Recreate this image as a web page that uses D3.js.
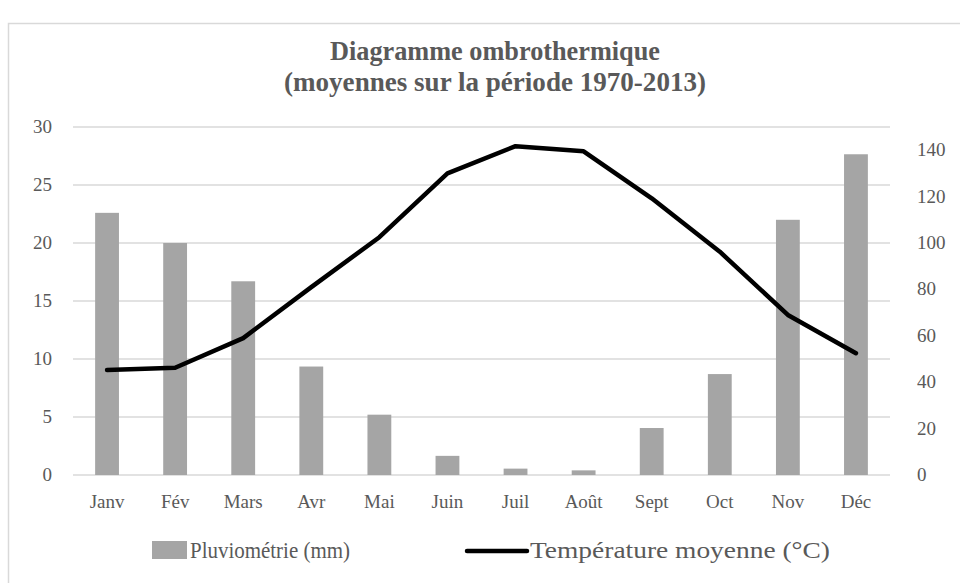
<!DOCTYPE html>
<html>
<head>
<meta charset="utf-8">
<script src="https://cdn.jsdelivr.net/npm/d3@7"></script>
<style>
  body { margin: 0; background: #fff; }
  svg text { font-family: "Liberation Serif", "Times New Roman", serif; fill: #595959; }
</style>
</head>
<body>
<div class="chart"></div>
<script>
// Data
var months = ['Janv', 'Fév', 'Mars', 'Avr', 'Mai', 'Juin', 'Juil', 'Août', 'Sept', 'Oct', 'Nov', 'Déc'];
var pluvio = [22.6, 20.0, 16.7, 9.35, 5.2, 1.65, 0.55, 0.4, 4.05, 8.7, 22.0, 27.65];
var temperature = [9.05, 9.25, 11.8, 16.2, 20.5, 26.0, 28.35, 27.9, 23.85, 19.25, 13.8, 10.5];
var leftTicks = [0, 5, 10, 15, 20, 25, 30];
var rightTicks = [0, 20, 40, 60, 80, 100, 120, 140];
var titleLines = ['Diagramme ombrothermique', '(moyennes sur la période 1970-2013)'];

var w = 960, h = 583;
var plotLeft = 73, plotRight = 890, plotTop = 127, plotBottom = 475;
var fontSize = 19;

var svg = d3.select('.chart')
    .append('svg')
        .attr('width', w)
        .attr('height', h);

// chart frame
svg.append('rect')
    .attr('x', 8.5).attr('y', 23.5)
    .attr('width', 1000).attr('height', 600)
    .attr('fill', 'none')
    .attr('stroke', '#d9d9d9')
    .attr('stroke-width', 1.5);

var x = d3.scaleBand().domain(months).range([plotLeft, plotRight]).paddingInner(0.65).paddingOuter(0.325);
var y = d3.scaleLinear().domain([0, 30]).range([plotBottom, plotTop]);
var y2 = d3.scaleLinear().domain([0, 150]).range([plotBottom, plotTop]);

// gridlines
svg.selectAll('line.grid')
    .data(leftTicks)
    .enter()
    .append('line')
        .attr('class', 'grid')
        .attr('x1', plotLeft).attr('x2', plotRight)
        .attr('y1', function (d) { return y(d); })
        .attr('y2', function (d) { return y(d); })
        .attr('stroke', '#d9d9d9')
        .attr('stroke-width', 1.5);

// bars
svg.selectAll('rect.bar')
    .data(pluvio)
    .enter()
    .append('rect')
        .attr('class', 'bar')
        .attr('x', function (d, i) { return x(months[i]); })
        .attr('y', function (d) { return y(d); })
        .attr('width', x.bandwidth())
        .attr('height', function (d) { return y(0) - y(d); })
        .attr('fill', '#a5a5a5');

// line
var line = d3.line()
    .x(function (d, i) { return x(months[i]) + x.bandwidth() / 2; })
    .y(function (d) { return y(d); });

svg.append('path')
    .datum(temperature)
    .attr('d', line)
    .attr('fill', 'none')
    .attr('stroke', '#000')
    .attr('stroke-width', 4.5)
    .attr('stroke-linejoin', 'round')
    .attr('stroke-linecap', 'round');

// left axis labels
svg.selectAll('text.yl')
    .data(leftTicks)
    .enter()
    .append('text')
    .attr('class', 'yl')
    .text(function (d) { return d; })
    .attr('x', 52)
    .attr('y', function (d) { return y(d) + 6; })
    .attr('text-anchor', 'end')
    .attr('font-size', fontSize);

// right axis labels
svg.selectAll('text.yr')
    .data(rightTicks)
    .enter()
    .append('text')
    .attr('class', 'yr')
    .text(function (d) { return d; })
    .attr('x', 917)
    .attr('y', function (d) { return y2(d) + 6; })
    .attr('text-anchor', 'start')
    .attr('font-size', fontSize);

// x labels
svg.selectAll('text.x')
    .data(months)
    .enter()
    .append('text')
    .attr('class', 'x')
    .text(function (d) { return d; })
    .attr('x', function (d) { return x(d) + x.bandwidth() / 2; })
    .attr('y', 508)
    .attr('text-anchor', 'middle')
    .attr('font-size', fontSize);

// title
var titleWidths = [330, 422];
svg.selectAll('text.title')
    .data(titleLines)
    .enter()
    .append('text')
    .attr('class', 'title')
    .text(function (d) { return d; })
    .attr('x', function (d, i) { return 495 - titleWidths[i] / 2; })
    .attr('y', function (d, i) { return 60 + i * 31; })
    .attr('textLength', function (d, i) { return titleWidths[i]; })
    .attr('lengthAdjust', 'spacingAndGlyphs')
    .attr('font-size', 27)
    .attr('font-weight', 'bold');

// legend
svg.append('rect')
    .attr('x', 152).attr('y', 541)
    .attr('width', 35).attr('height', 18)
    .attr('fill', '#a5a5a5');
svg.append('text')
    .text('Pluviométrie (mm)')
    .attr('x', 190).attr('y', 558)
    .attr('textLength', 160)
    .attr('lengthAdjust', 'spacingAndGlyphs')
    .attr('font-size', 23);
svg.append('line')
    .attr('x1', 467).attr('x2', 527)
    .attr('y1', 551).attr('y2', 551)
    .attr('stroke', '#000')
    .attr('stroke-width', 4.5)
    .attr('stroke-linecap', 'round');
svg.append('text')
    .text('Température moyenne (°C)')
    .attr('x', 530).attr('y', 558)
    .attr('textLength', 300)
    .attr('lengthAdjust', 'spacingAndGlyphs')
    .attr('font-size', 23);
</script>
</body>
</html>
